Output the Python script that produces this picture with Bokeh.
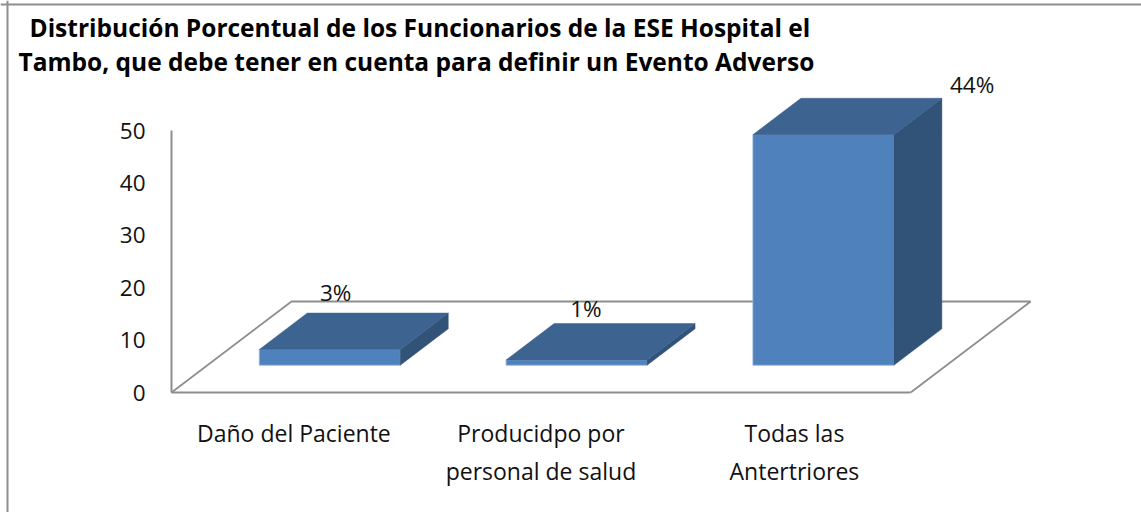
from bokeh.plotting import figure
from bokeh.embed import file_html
from bokeh.resources import INLINE
from bokeh.models import Range1d, LinearAxis, FixedTicker, Label, Span
from bokeh.core.properties import value

# --- data ---
categories = ["Daño del Paciente", "Producidpo por\npersonal de salud", "Todas las\nAntertriores"]
values = [3, 1, 44]
value_labels = ["3%", "1%", "44%"]
y_ticks = [0, 10, 20, 30, 40, 50]
title_lines = ["Distribución Porcentual de los Funcionarios de la ESE Hospital el",
               "Tambo, que debe tener en cuenta para definir un Evento Adverso"]

# --- scales: pixels per unit, origin of the chart's corner ---
W, H = 1141, 512
X0, Y0 = 171, 392
PX_X, PX_Y = 246.8, 5.24
FLOOR_DX, FLOOR_DY = 120 / PX_X, 91 / PX_Y      # projection of the full floor depth
Z0, Z1 = 0.30, 0.70                              # bar depth span on the floor
GAP, BAR_W = 0.21, 0.571
FONT = "Open Sans"
GREY = "#8e8e8e"

def proj(x, y, z):
    return x + z * FLOOR_DX, y + z * FLOOR_DY

p = figure(width=W, height=H, output_backend="svg", toolbar_location=None,
           x_range=Range1d(-X0 / PX_X, (W - X0) / PX_X),
           y_range=Range1d((Y0 - H) / PX_Y, Y0 / PX_Y),
           x_axis_type=None, y_axis_type=None, min_border=0,
           outline_line_color=None, background_fill_color="white",
           border_fill_color="white")
p.grid.visible = False
p.styles = {"position": "absolute", "left": "0px", "top": "0px"}

# floor (back and side edges)
corners = [proj(0, 0, 0), proj(0, 0, 1), proj(2.995, 0, 1), proj(2.995, 0, 0)]
p.line([c[0] for c in corners], [c[1] for c in corners], line_color=GREY, line_width=1.8)

# bars
front_c, top_c, side_c = "#4F81BD", "#3D6390", "#325378"
for i, v in enumerate(values):
    l, r = i + GAP, i + GAP + BAR_W
    a = proj(l, 0, Z0); b = proj(r, 0, Z0); c = proj(r, v, Z0); d = proj(l, v, Z0)
    e = proj(l, v, Z1); f = proj(r, v, Z1); g = proj(r, 0, Z1)
    p.patch([a[0], b[0], c[0], d[0]], [a[1], b[1], c[1], d[1]],
            fill_color=front_c, line_color="#8fb0da", line_width=0.8)
    p.patch([b[0], g[0], f[0], c[0]], [b[1], g[1], f[1], c[1]],
            fill_color=side_c, line_color=side_c, line_width=0.5)
    p.patch([d[0], c[0], f[0], e[0]], [d[1], c[1], f[1], e[1]],
            fill_color=top_c, line_color=top_c, line_width=0.5)

# axes
yax = LinearAxis(fixed_location=0, bounds=(0, 50), ticker=FixedTicker(ticks=y_ticks),
                 axis_line_color=GREY, axis_line_width=2,
                 major_tick_line_color=None, minor_tick_line_color=None,
                 major_label_standoff=20, major_label_text_font=FONT,
                 major_label_text_font_size="22.5px", major_label_text_color="#111111")
p.add_layout(yax, "left")

label_pos = [0.496, 1.497, 2.524]
xax = LinearAxis(fixed_location=0, bounds=(0, 2.995), ticker=FixedTicker(ticks=label_pos),
                 major_label_overrides={k: t for k, t in zip(label_pos, categories)},
                 axis_line_color=GREY, axis_line_width=2,
                 major_tick_line_color=None, minor_tick_line_color=None,
                 major_label_standoff=18, major_label_text_font=FONT,
                 major_label_text_font_size="23px", major_label_text_color="#111111")
p.add_layout(xax, "below")

# value labels
lab_x = [0.665, 1.679, 3.244]
lab_y = [19.1, 16.0, 58.8]
p.text(lab_x, lab_y, text=value_labels, text_font=value(FONT), text_font_size="22.5px",
       text_align="center", text_baseline="middle", text_color="#111111")

# title
for t, sx, sy in zip(title_lines, [29, 18], [27, 60.5]):
    p.add_layout(Label(x=(sx - X0) / PX_X, y=(Y0 - sy) / PX_Y, text=t, text_font=FONT,
                       text_font_size="24.5px", text_font_style="bold", text_color="black",
                       text_align="left", text_baseline="alphabetic"))

# chart area border (left and top)
p.add_layout(Span(location=(7 - X0) / PX_X, dimension="height", line_color=GREY, line_width=2))
p.add_layout(Span(location=(Y0 - 4) / PX_Y, dimension="width", line_color=GREY, line_width=2))

open("out.html", "w").write(file_html(p, INLINE))
